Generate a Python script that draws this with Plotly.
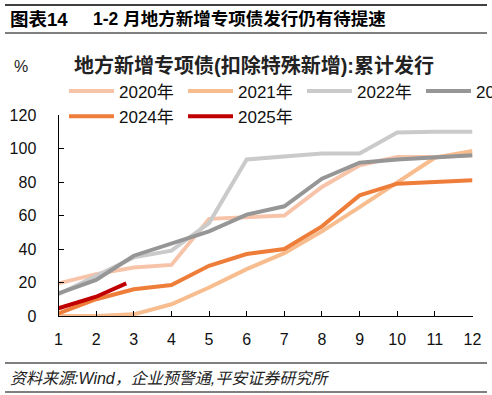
import plotly.graph_objects as go

months = list(range(1, 13))
month_labels = [str(m) for m in months]

y2020 = [19.5, 25, 29, 30.5, 58, 59, 60, 77, 90, 95, 95, 96]
y2021 = [0, 0, 1, 7, 17, 28, 37.5, 50.5, 65, 80, 94.5, 98.5]
y2022 = [13, 24, 35, 39, 55.5, 93.5, 95.5, 97, 97, 109.5, 110, 110]
y2023 = [13.5, 21.5, 36, 43, 50.5, 60.5, 65.5, 82, 91.5, 93.5, 94.5, 96]
y2024 = [1.5, 10, 16, 18.5, 30, 37, 40, 53.5, 72, 79, 80, 81]
x2025 = [1, 2, 2.8]
y2025 = [4.6, 11.5, 19.5]

series = [
    ("2020年", months, y2020, "#F7C4AA"),
    ("2021年", months, y2021, "#F8BD8E"),
    ("2022年", months, y2022, "#CACACA"),
    ("2023年", months, y2023, "#969696"),
    ("2024年", months, y2024, "#EF7D3A"),
    ("2025年", x2025, y2025, "#C00000"),
]

FONT = "Liberation Sans, Arial, Noto Sans CJK SC, sans-serif"
CJK = "Liberation Sans, Noto Sans CJK SC, sans-serif"

W, H = 492, 395
PL, PR, PT, PB = 58.5, 472.5, 115, 316  # plot box in pixels

def px(x):
    return x / W

def py(y):
    return 1 - y / H

fig = go.Figure()
for name, xs, ys, col in series:
    fig.add_trace(go.Scatter(x=xs, y=ys, name=name, mode="lines",
                             line=dict(color=col, width=4)))

rule_rows = [(5, 1.5), (33, 1.2), (363, 1.2), (392, 1.2)]
rules = []
for yy, wdt in rule_rows:
    rules.append(dict(type="line", xref="paper", yref="paper", layer="above",
                      x0=px(5), x1=px(487), y0=py(yy), y1=py(yy),
                      line=dict(color="#000000", width=wdt)))

fig.update_layout(
    width=W, height=H,
    margin=dict(l=0, r=0, t=0, b=0, pad=0, autoexpand=False),
    paper_bgcolor="white", plot_bgcolor="white",
    font=dict(family=FONT, size=16, color="#111111"),
    showlegend=True,
    shapes=rules,
    legend=dict(orientation="h", x=px(64), y=py(73.5), xanchor="left", yanchor="top",
                entrywidth=59, entrywidthmode="pixels", itemwidth=45,
                font=dict(size=17, family=CJK), bgcolor="rgba(0,0,0,0)",
                tracegroupgap=0, itemclick=False),
    xaxis=dict(domain=[px(PL), px(PR)], range=[1, 12], tickvals=months,
               ticktext=month_labels,
               showline=True, linecolor="black", linewidth=1,
               ticks="inside", ticklen=5, tickcolor="black",
               showgrid=False, zeroline=False, ticklabelstandoff=9,
               tickfont=dict(size=16)),
    yaxis=dict(domain=[py(PB), py(PT)], range=[0, 120], dtick=20,
               showline=True, linecolor="black",
               linewidth=1, ticks="inside", ticklen=5, tickcolor="black",
               showgrid=False, zeroline=False, ticklabelstandoff=18,
               tickfont=dict(size=16)),
)

fig.add_annotation(xref="paper", yref="paper", x=px(8), y=py(19),
                   xanchor="left", yanchor="middle", showarrow=False,
                   text="<b>图表14</b>", font=dict(size=18.5, family=CJK, color="black"))
fig.add_annotation(xref="paper", yref="paper", x=px(91), y=py(19),
                   xanchor="left", yanchor="middle", showarrow=False,
                   text="<b>1-2 月地方新增专项债发行仍有待提速</b>",
                   font=dict(size=17.5, family=CJK, color="black"))
fig.add_annotation(xref="paper", yref="paper", x=px(254), y=py(65),
                   xanchor="center", yanchor="middle", showarrow=False,
                   text="<b>地方新增专项债(扣除特殊新增):累计发行</b>",
                   font=dict(size=20, family=CJK, color="#222222"))
fig.add_annotation(xref="paper", yref="paper", x=px(21), y=py(66),
                   xanchor="center", yanchor="middle", showarrow=False,
                   text="%", font=dict(size=16, color="#222222"))
fig.add_annotation(xref="paper", yref="paper", x=px(8), y=py(378),
                   xanchor="left", yanchor="middle", showarrow=False,
                   text="<i>资料来源:Wind，企业预警通,平安证券研究所</i>",
                   font=dict(size=16, family=CJK, color="#222222"))

fig.write_html("out.html", config={"displayModeBar": False},
               post_script="document.body.style.margin='0';document.body.style.padding='0';")
